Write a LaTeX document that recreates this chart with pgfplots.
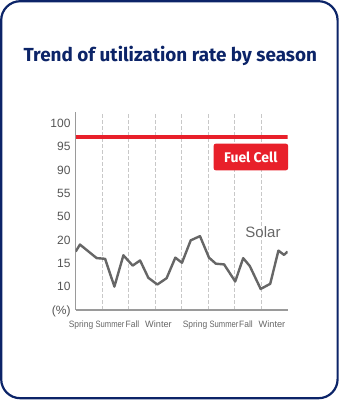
\documentclass[border=0pt]{standalone}
\usepackage{pgfplots}
\pgfplotsset{compat=1.18}
\usepackage{fontspec}
\setmainfont{Liberation Sans}
\newfontfamily\titlefont{Fira Sans}
\newfontfamily\narrowfont{Liberation Sans}[FakeStretch=0.92]
\newfontfamily\narrowerfont{Liberation Sans}[FakeStretch=0.83]
\definecolor{navy}{HTML}{0C2468}
\definecolor{fcred}{HTML}{E8202A}
\definecolor{solargray}{HTML}{666666}
\definecolor{ticktext}{HTML}{555555}
\definecolor{axisgray}{HTML}{9A9A9A}
\definecolor{gridgray}{HTML}{C8C8C8}
\begin{document}
\begin{tikzpicture}[x=1pt,y=1pt]
\useasboundingbox (0,0) rectangle (340,400);
\draw[navy, line width=2.2pt, rounded corners=19pt] (1.2,1.8) rectangle (337.6,398.8);
\node[anchor=base, text=navy, inner sep=0pt, font=\titlefont\bfseries\fontsize{18.9}{22}\selectfont] at (170.3,338.8) {Trend of utilization rate by season};
\begin{axis}[
  at={(75.7pt,90pt)}, anchor=south west,
  scale only axis, width=212pt, height=198pt,
  xmin=0, xmax=8, ymin=5, ymax=47.35,
  axis x line*=bottom, axis y line*=left,
  axis line style={-, axisgray, line width=1.3pt},
  /pgf/number format/assume math mode=true,
  xtick={1,2,3,4,5,6,7}, xticklabels={}, xmajorgrids,
  major grid style={gridgray, dash pattern=on 4pt off 2pt, line width=0.8pt},
  extra x ticks={0.200,1.294,2.143,3.125,4.502,5.596,6.426,7.408},
  extra x tick labels={Spring,{\narrowerfont Summer},Fall,{\rmfamily Winter},Spring,{\narrowerfont Summer},Fall,{\rmfamily Winter}},
  extra x tick style={grid=none},
  major tick length=0pt,
  tick style={draw=none},
  xticklabel style={anchor=base, inner sep=0pt, yshift=-17pt, font=\narrowfont\fontsize{9.2}{10}\selectfont, text=solargray},
  ytick={5,10,15,20,25,30,35,40,45},
  yticklabels={(\%),10,15,20,50,55,90,95,100},
  yticklabel style={anchor=base east, inner sep=0pt, xshift=-5pt, yshift=-4.3pt, font=\fontsize{12}{14}\selectfont, text=ticktext},
]
\addplot[fcred, line width=3.3pt] coordinates {(0,42) (8,42)};
\addplot[solargray, line width=2.4pt, line join=round] coordinates {
(0,17.5) (0.16,19.0) (0.79,16.1) (1.11,15.95) (1.46,10.0) (1.80,16.7) (2.15,14.5) (2.43,15.6) (2.74,11.9) (3.08,10.45) (3.43,11.8) (3.76,16.2) (4.01,15.1) (4.34,19.9) (4.69,20.8) (5.03,16.2) (5.29,14.9) (5.60,14.75) (6.02,11.1) (6.32,16.1) (6.57,14.4) (6.98,9.5) (7.34,10.6) (7.65,17.7) (7.86,16.8) (8.0,17.5)};
\end{axis}
\node[fill=fcred, rounded corners=2pt, minimum width=74.3pt, minimum height=26.6pt, inner sep=0pt, text=white, font=\titlefont\bfseries\fontsize{14}{16}\selectfont] at (250.85,243) {Fuel Cell};
\node[anchor=base, inner sep=0pt, text=solargray, font=\fontsize{15}{18}\selectfont] at (263,162.3) {Solar};
\end{tikzpicture}
\end{document}
